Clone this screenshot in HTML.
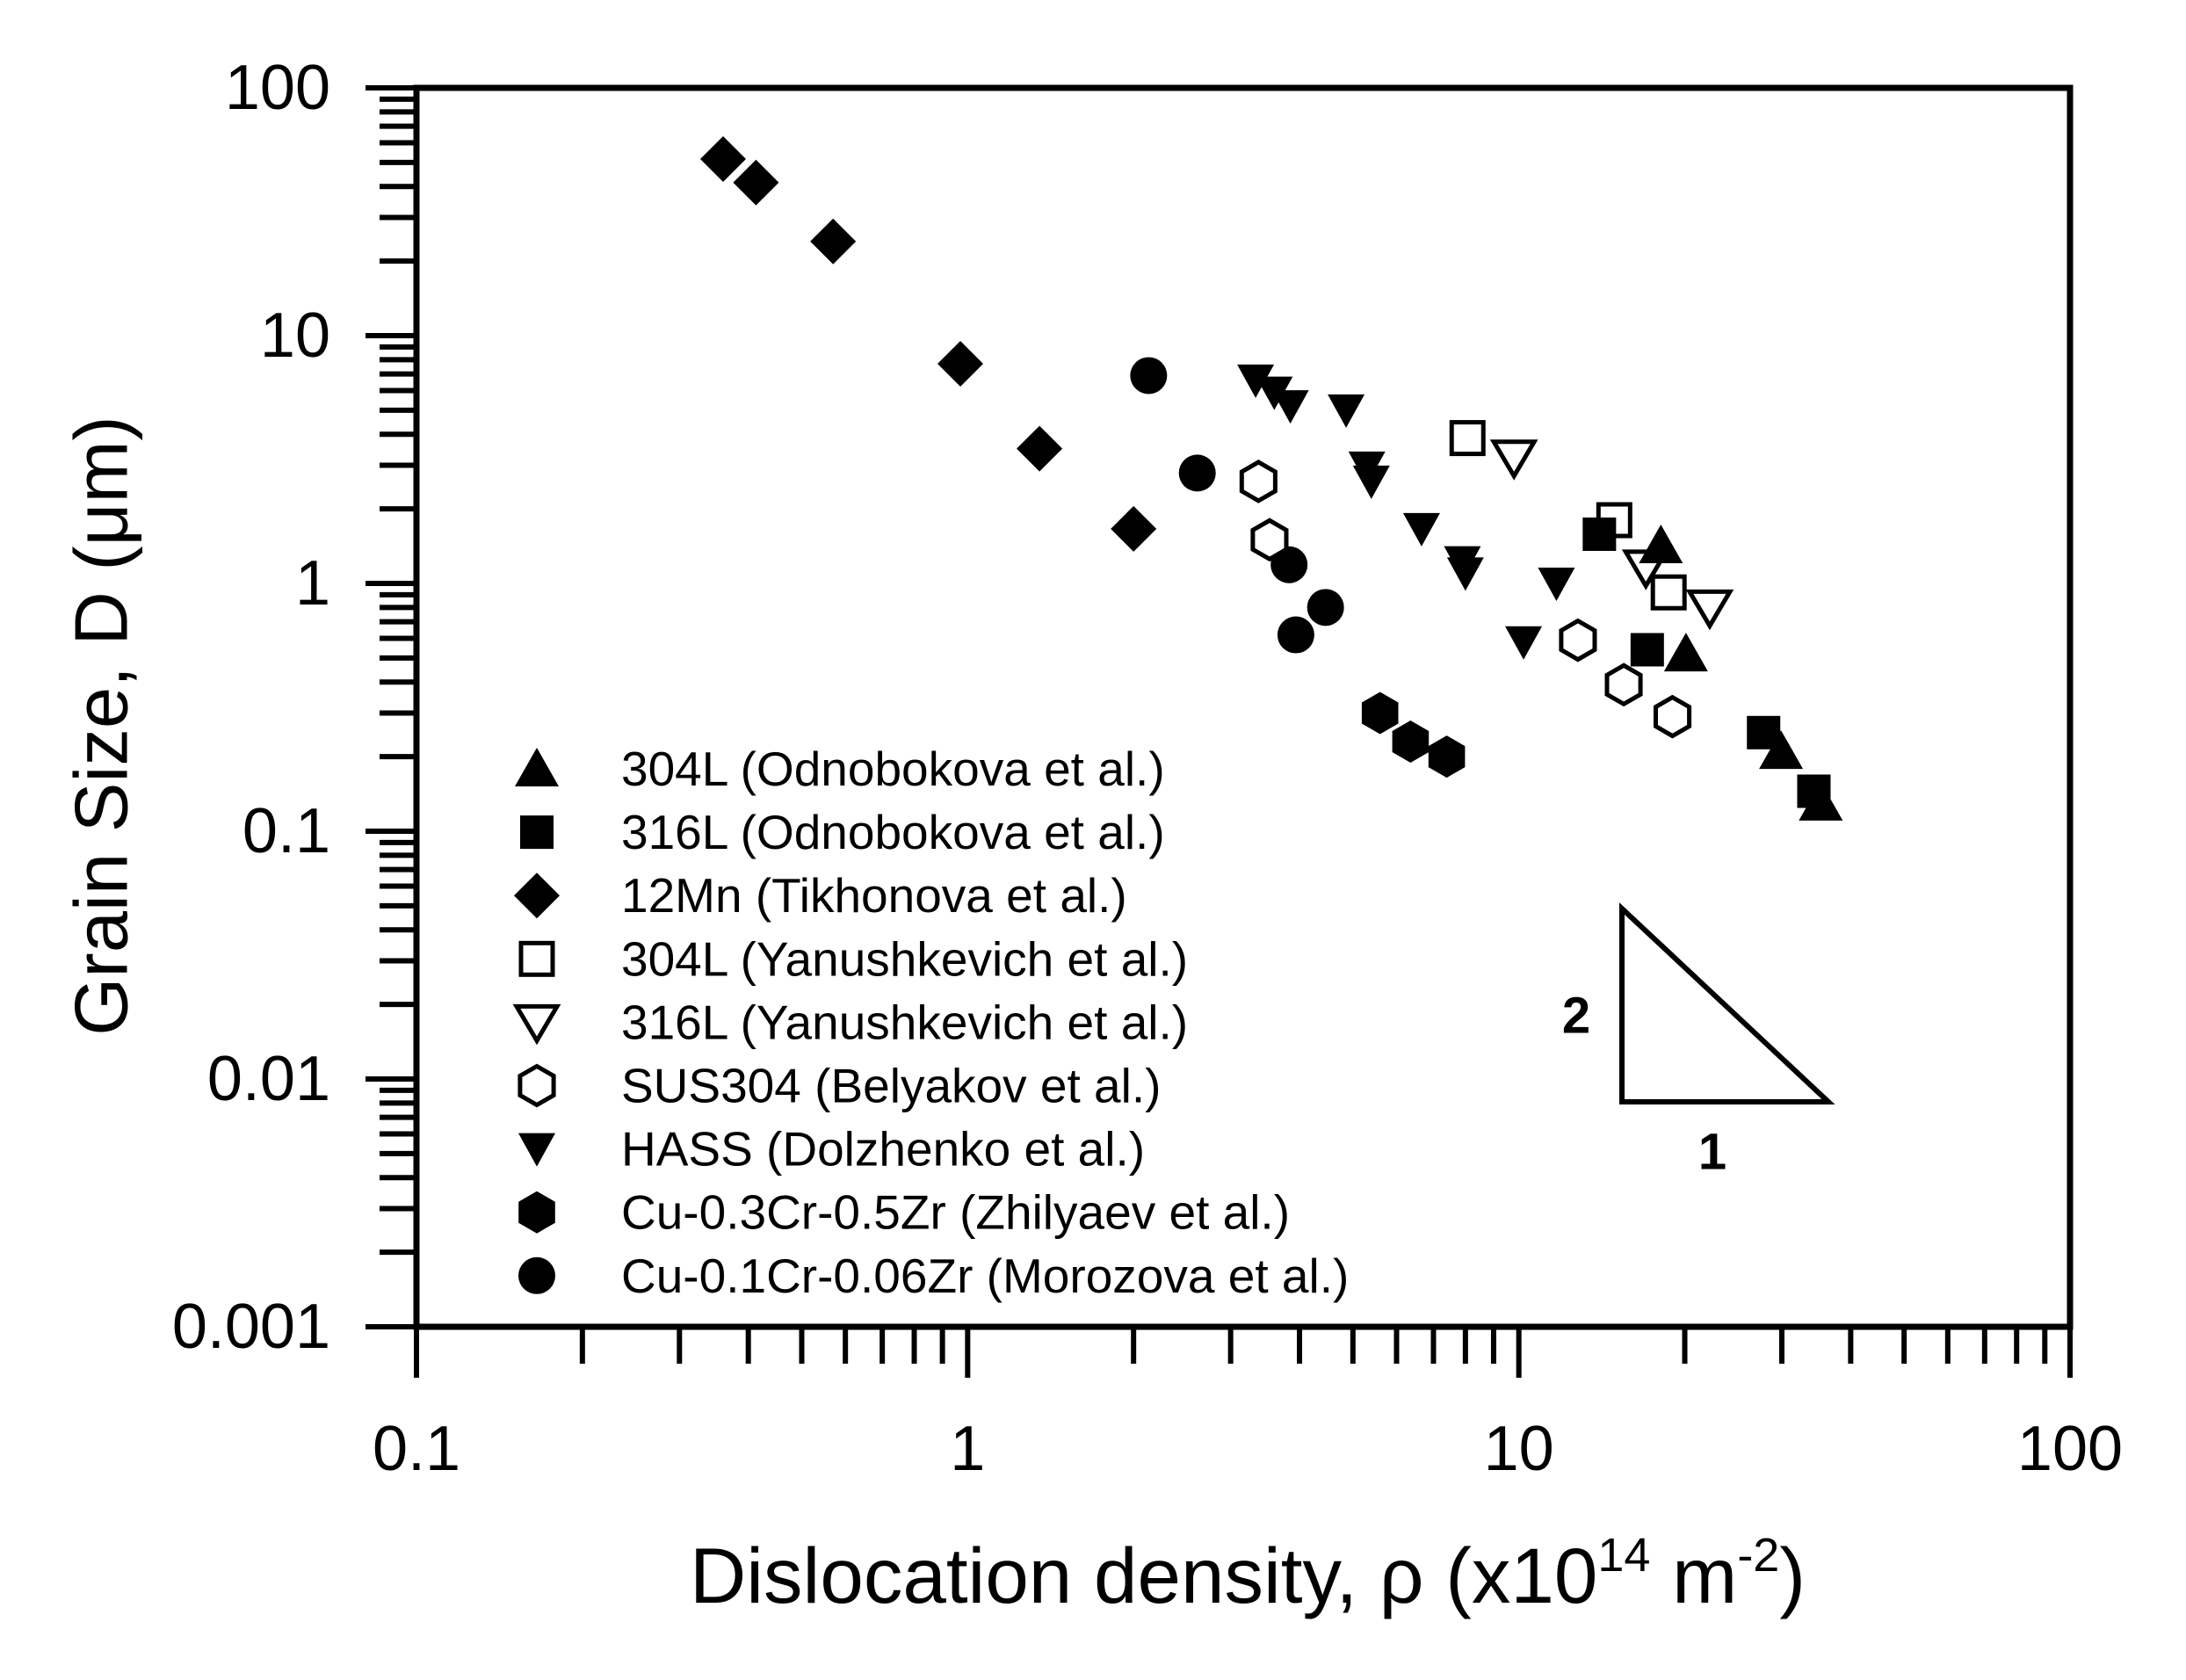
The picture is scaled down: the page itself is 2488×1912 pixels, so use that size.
<!DOCTYPE html>
<html><head><meta charset="utf-8"><style>
html,body{margin:0;padding:0;background:#fff;}
svg{display:block;font-family:"Liberation Sans",Arial,sans-serif;}
</style></head><body>
<svg id="chart" width="2488" height="1912" viewBox="0 0 2488 1912" xmlns="http://www.w3.org/2000/svg">
<rect width="2488" height="1912" fill="#fff"/>
<g id="axes"></g>
<g id="marks"></g>
<g id="legend"></g>
<g id="slope">
<polygon points="1846,1034 1846,1254 2081,1254" fill="none" stroke="#000" stroke-width="6"/>
<text x="1794" y="1156" font-size="58" font-weight="bold" text-anchor="middle" dominant-baseline="central">2</text>
<text x="1949" y="1311" font-size="58" font-weight="bold" text-anchor="middle" dominant-baseline="central">1</text>
</g>
<text x="1420" y="1824" font-size="89" text-anchor="middle">Dislocation density, ρ (x10<tspan dy="-36" font-size="54">14</tspan><tspan dy="36"> m</tspan><tspan dy="-36" font-size="54">-2</tspan><tspan dy="36">)</tspan></text>
<text transform="translate(116,826) rotate(-90)" font-size="85" text-anchor="middle" dominant-baseline="central">Grain Size, D (μm)</text>
</svg>
<script>
const xTickVals=[0.1,1,10,100];
const xTickLabels=["0.1","1","10","100"];
const yTickVals=[0.001,0.01,0.1,1,10,100];
const yTickLabels=["0.001","0.01","0.1","1","10","100"];
const seriesNames=["304L (Odnobokova et al.)","316L (Odnobokova et al.)","12Mn (Tikhonova et al.)","304L (Yanushkevich et al.)","316L (Yanushkevich et al.)","SUS304 (Belyakov et al.)","HASS (Dolzhenko et al.)","Cu-0.3Cr-0.5Zr (Zhilyaev et al.)","Cu-0.1Cr-0.06Zr (Morozova et al.)"];
const x304LOdn=[18.1,20.1,29.9,35.3];
const y304LOdn=[1.42,0.52,0.21,0.13];
const x316LOdn=[14.0,17.1,27.8,34.3];
const y316LOdn=[1.58,0.54,0.25,0.145];
const x12Mn=[0.36,0.413,0.57,0.97,1.35,2.0];
const y12Mn=[51.6,41.5,24,7.7,3.5,1.66];
const x304LYan=[8.07,14.9,18.7];
const y304LYan=[3.86,1.80,0.92];
const x316LYan=[9.8,17.0,22.2];
const y316LYan=[3.22,1.16,0.80];
const xSUS=[3.37,3.53,12.8,15.5,19.0];
const ySUS=[2.58,1.50,0.59,0.39,0.29];
const xHASS=[3.33,3.6,3.85,4.86,5.3,5.4,6.66,7.9,8.0,11.7,10.2];
const yHASS=[6.6,5.9,5.2,5.0,2.94,2.58,1.66,1.22,1.10,1.0,0.58];
const xZhil=[5.6,6.36,7.4];
const yZhil=[0.30,0.23,0.20];
const xMoro=[2.13,2.61,3.83,4.46,3.94];
const yMoro=[6.9,2.79,1.19,0.80,0.62];

const L=474,R=2356,T=100,B=1510;
function sx(v){return L+(Math.log10(v)+1)/3*(R-L);}
function sy(v){return B-(Math.log10(v)+3)/5*(B-T);}
const NS="http://www.w3.org/2000/svg";
function mk(tag,attrs,parent){const e=document.createElementNS(NS,tag);for(const k in attrs)e.setAttribute(k,attrs[k]);parent.appendChild(e);return e;}
const axes=document.getElementById('axes');
const fr=mk('rect',{x:L,y:T,width:R-L,height:B-T,fill:'none',stroke:'#000','stroke-width':7},axes);


for(let d=0;d<3;d++){const base=xTickVals[d];for(let m=1;m<10;m++){const v=base*m;const x=sx(v);const len=m===1?58:42;
 const t=mk('line',{x1:x,x2:x,y1:B,y2:B+len,stroke:'#000','stroke-width':6},axes);
 
 }}
{const t=mk('line',{x1:R,x2:R,y1:B,y2:B+58,stroke:'#000','stroke-width':6},axes);
 
 }
xTickVals.forEach((v,i)=>{const t=mk('text',{x:sx(v),y:1673,'font-size':72,'text-anchor':'middle'},axes);t.textContent=xTickLabels[i];
 
 });
for(let d=0;d<5;d++){const base=yTickVals[d];for(let m=1;m<10;m++){const v=base*m;const y=sy(v);const len=m===1?58:42;
 const t=mk('line',{x1:L-len,x2:L,y1:y,y2:y,stroke:'#000','stroke-width':6},axes);
 
 }}
{const t=mk('line',{x1:L-58,x2:L,y1:T,y2:T,stroke:'#000','stroke-width':6},axes);
 
 }
yTickVals.forEach((v,i)=>{const t=mk('text',{x:376,y:sy(v),'font-size':72,'text-anchor':'end','dominant-baseline':'central'},axes);t.textContent=yTickLabels[i];
 
 });

function hexPts(cx,cy,r){let p=[];for(let k=0;k<6;k++){const a=Math.PI/2+k*Math.PI/3;p.push((cx+r*Math.cos(a)).toFixed(1)+','+(cy-r*Math.sin(a)).toFixed(1));}return p.join(' ');}
function drawMarker(kind,cx,cy,parent){
 let e;
 if(kind==='tri') e=mk('polygon',{points:`${cx},${cy-24} ${cx-25},${cy+20} ${cx+25},${cy+20}`,fill:'#000'},parent);
 else if(kind==='sq') e=mk('rect',{x:cx-19,y:cy-19,width:38,height:38,fill:'#000'},parent);
 else if(kind==='dia') e=mk('polygon',{points:`${cx},${cy-26} ${cx+26},${cy} ${cx},${cy+26} ${cx-26},${cy}`,fill:'#000'},parent);
 else if(kind==='osq') e=mk('rect',{x:cx-18,y:cy-18,width:36,height:36,fill:'#fff',stroke:'#000','stroke-width':5},parent);
 else if(kind==='otri') e=mk('polygon',{points:`${cx},${cy+21} ${cx-23},${cy-18} ${cx+23},${cy-18}`,fill:'#fff',stroke:'#000','stroke-width':5},parent);
 else if(kind==='ohex') e=mk('polygon',{points:hexPts(cx,cy,22),fill:'#fff',stroke:'#000','stroke-width':5},parent);
 else if(kind==='dtri') e=mk('polygon',{points:`${cx},${cy+20} ${cx-21},${cy-18} ${cx+21},${cy-18}`,fill:'#000'},parent);
 else if(kind==='hex') e=mk('polygon',{points:hexPts(cx,cy,24),fill:'#000'},parent);
 else e=mk('circle',{cx:cx,cy:cy,r:21,fill:'#000'},parent);
 return e;
}
const kinds=['tri','sq','dia','osq','otri','ohex','dtri','hex','circ'];
const xs=[x304LOdn,x316LOdn,x12Mn,x304LYan,x316LYan,xSUS,xHASS,xZhil,xMoro];
const ys=[y304LOdn,y316LOdn,y12Mn,y304LYan,y316LYan,ySUS,yHASS,yZhil,yMoro];
const slugs=['304l-odnobokova','316l-odnobokova','12mn-tikhonova','304l-yanushkevich','316l-yanushkevich','sus304-belyakov','hass-dolzhenko','cu03cr-zhilyaev','cu01cr-morozova'];
const marks=document.getElementById('marks');
const order=[2,8,7,5,6,3,4,1,0];
order.forEach(s=>{xs[s].forEach((xv,i)=>{const e=drawMarker(kinds[s],sx(xv),sy(ys[s][i]),marks);
 
 });});
const leg=document.getElementById('legend');
seriesNames.forEach((n,i)=>{const y=875+72.1*i;
 const m=drawMarker(kinds[i],611,y,leg);
 
 
 const t=mk('text',{x:707,y:y,'font-size':55,'dominant-baseline':'central'},leg);t.textContent=n;
 
 });
</script>
</body></html>
